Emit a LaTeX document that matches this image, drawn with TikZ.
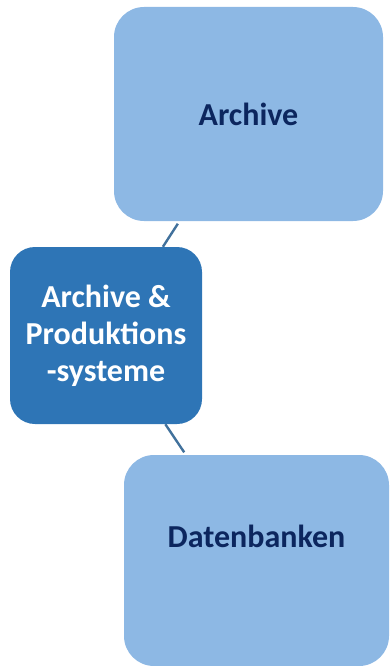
\documentclass[tikz,border=0pt]{standalone}
\usepackage{fontspec}
\setmainfont{Carlito}
\usepackage{tikz}
\usetikzlibrary{positioning, calc}
\definecolor{lightbox}{RGB}{141,184,228}
\definecolor{darkbox}{RGB}{46,117,182}
\definecolor{navytext}{RGB}{12,38,94}
\definecolor{linkline}{RGB}{65,113,156}
\tikzset{
    topic/.style={rectangle, rounded corners=30pt, fill=lightbox, text=navytext,
      font=\fontsize{32}{38}\selectfont\bfseries, align=center, inner sep=0pt},
    hub/.style={rectangle, rounded corners=25pt, fill=darkbox, text=white,
      font=\fontsize{32}{37}\selectfont\bfseries, align=center, inner sep=0pt},
    link/.style={draw=linkline, line width=2.4pt},
}

\begin{document}
\begin{tikzpicture}[x=1pt, y=-1pt]
    \useasboundingbox (0,0) rectangle (390,666);

    \node[topic, minimum width=269pt, minimum height=214pt] (arch) at (248.5,114) {Archive};
    \node[hub, minimum width=192pt, minimum height=177pt] (sys) at (106,335.5) {Archive \&\\Produktions\\-systeme};
    \node[topic, minimum width=265pt, minimum height=211pt, text height=21pt, text depth=47pt] (db) at (256.5,560.5) {Datenbanken};

    \draw[link, shorten <=3pt] (arch) -- (sys);
    \draw[link, shorten >=3pt] (sys) -- (db);
\end{tikzpicture}
\end{document}
